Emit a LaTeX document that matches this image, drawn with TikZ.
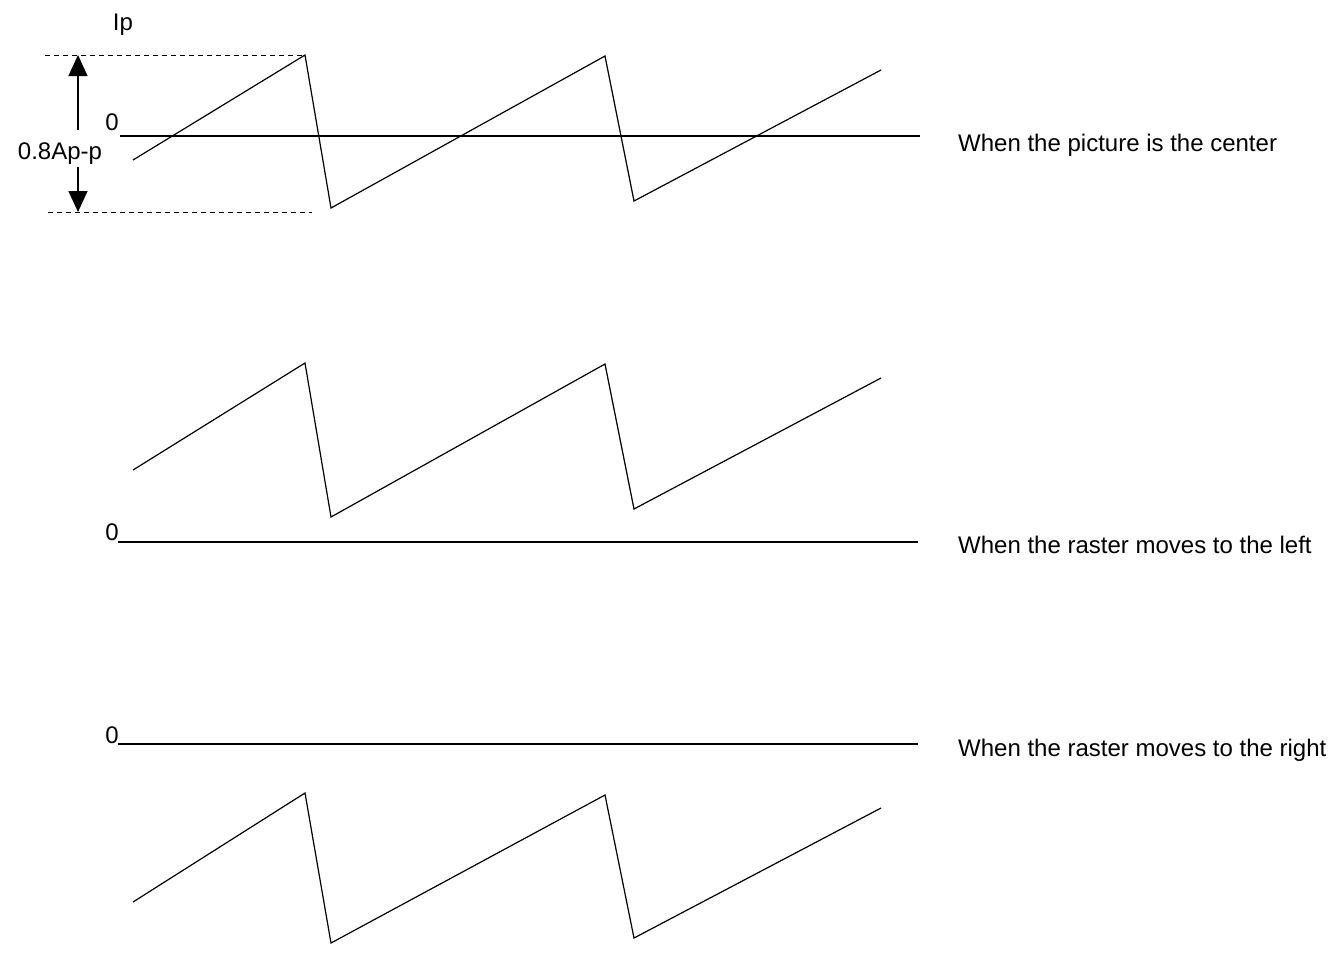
\documentclass[tikz,border=0pt]{standalone}
\usepackage{fontspec}
\setmainfont{Liberation Sans}
\usetikzlibrary{arrows.meta}
\begin{document}
\begin{tikzpicture}[x=1pt,y=-1pt,
  wave/.style={line width=1.2pt,line join=miter},
  zeroline/.style={line width=1.1pt},
  guide/.style={line width=1pt,dash pattern=on 5pt off 4pt},
  lbl/.style={inner sep=0pt,font=\fontsize{24}{26}\selectfont},
  dim/.style={line width=1.2pt,-{Triangle[width=19pt,length=21pt]}}]
\useasboundingbox (0,0) rectangle (1332,956);
% top
\foreach \n/\x/\y in {a/133/160,b/305/55,c/331/208,d/605/56,e/634/201,f/881/70}
  \coordinate (t\n) at (\x,\y);
\draw[wave] (ta) -- (tb) -- (tc) -- (td) -- (te) -- (tf);
\coordinate (tz1) at (120,136); \coordinate (tz2) at (920,136);
\draw[zeroline] (tz1) -- (tz2);
\coordinate (g1a) at (45,55); \draw[guide] (g1a) -- (tb);
\coordinate (g2a) at (48,212); \coordinate (g2b) at (312,212); \draw[guide] (g2a) -- (g2b);
\node[lbl] (amp) at (60,154) {0.8Ap-p};
\coordinate (arTop) at (78,55); \coordinate (arBot) at (78,212);
\coordinate (arS1) at (78,130); \coordinate (arS2) at (78,167);
\draw[dim] (arS1) -- (arTop);
\draw[dim] (arS2) -- (arBot);
\node[lbl] (ip) at (123,25) {Ip};
\node[lbl] (z1) at (112,122) {0};
\node[lbl,anchor=west] (c1) at (958,145) {When the picture is the center};
% middle
\foreach \n/\x/\y in {a/133/470,b/305/363,c/331/517,d/605/364,e/634/509,f/881/378}
  \coordinate (m\n) at (\x,\y);
\draw[wave] (ma) -- (mb) -- (mc) -- (md) -- (me) -- (mf);
\coordinate (mz1) at (118,542); \coordinate (mz2) at (918,542);
\draw[zeroline] (mz1) -- (mz2);
\node[lbl] (z2) at (112,532) {0};
\node[lbl,anchor=west] (c2) at (958,545) {When the raster moves to the left};
% bottom
\foreach \n/\x/\y in {a/133/902,b/305/793,c/331/943,d/605/795,e/634/938,f/881/808}
  \coordinate (b\n) at (\x,\y);
\draw[wave] (ba) -- (bb) -- (bc) -- (bd) -- (be) -- (bf);
\coordinate (bz1) at (118,744); \coordinate (bz2) at (918,744);
\draw[zeroline] (bz1) -- (bz2);
\node[lbl] (z3) at (112,735) {0};
\node[lbl,anchor=west] (c3) at (958,750) {When the raster moves to the right};
\end{tikzpicture}
\end{document}
